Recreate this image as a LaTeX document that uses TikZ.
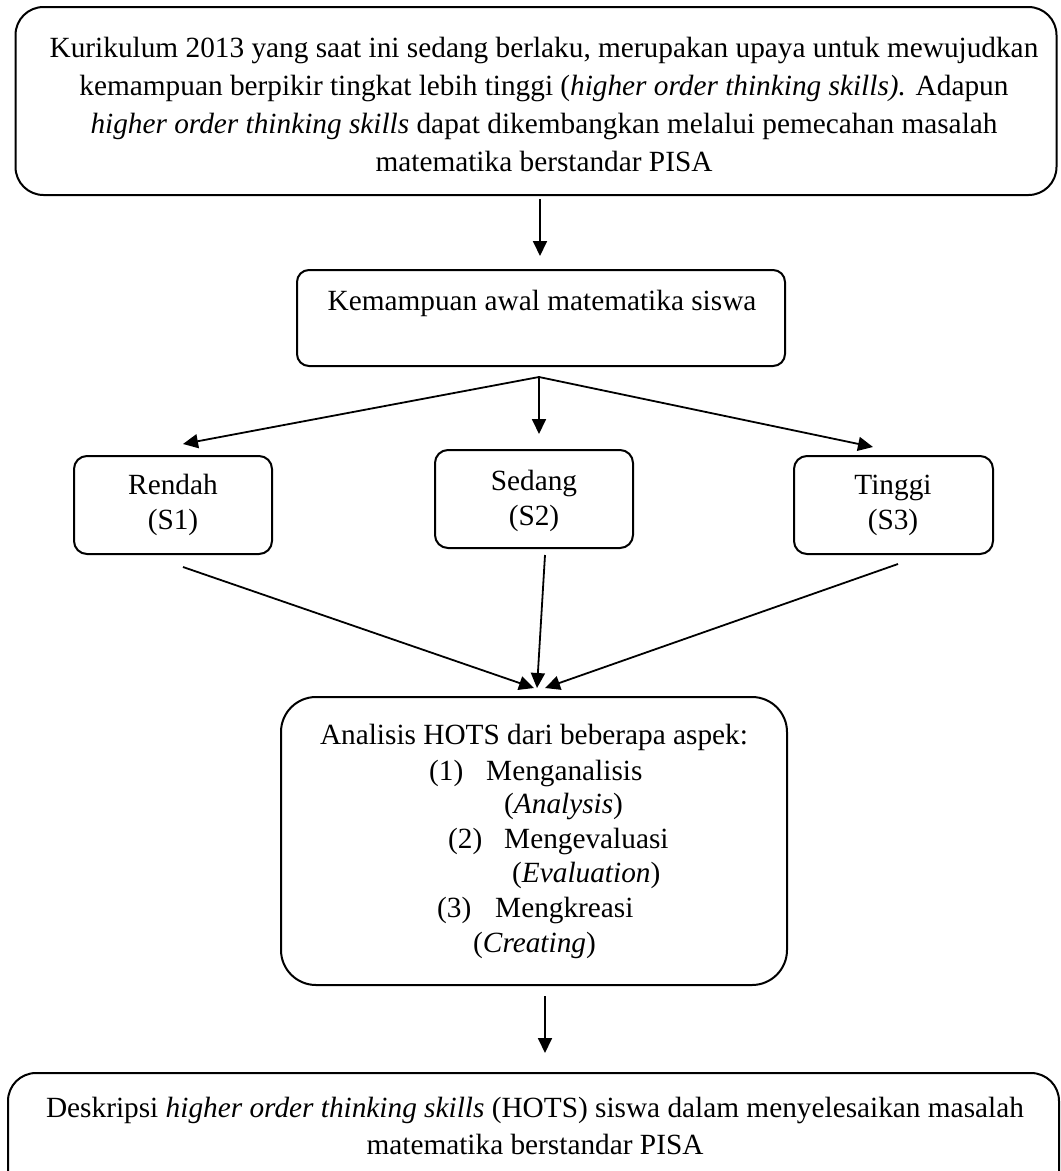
\documentclass[tikz,border=0pt]{standalone}
\usepackage{fontspec}
\setmainfont{Liberation Serif}
\usetikzlibrary{arrows.meta,calc}
\tikzset{
  box/.style={draw, line width=2pt, inner sep=0pt},
  txt/.style={font=\fontsize{29.3}{36}\selectfont, inner sep=0pt},
  lst/.style={txt, anchor=base west},
  arr/.style={line width=1.8pt, -{Triangle[length=15pt,width=14pt]}},
}
\begin{document}
\begin{tikzpicture}[x=1pt,y=-1pt]
\useasboundingbox (0,0) rectangle (1061,1171);
\clip (0,0) rectangle (1061,1171);
% boxes
\node[box, rounded corners=28pt, minimum width=1041pt, minimum height=188pt] (top) at (536,101) {};
\node[box, rounded corners=12pt, minimum width=488pt, minimum height=96pt] (kem) at (541,318) {};
\node[box, rounded corners=13pt, minimum width=198pt, minimum height=98pt] (ren) at (173,505) {};
\node[box, rounded corners=13pt, minimum width=198pt, minimum height=98pt] (sed) at (534,499) {};
\node[box, rounded corners=13pt, minimum width=199pt, minimum height=98pt] (tin) at (893.5,505) {};
\node[box, rounded corners=35pt, minimum width=506pt, minimum height=288pt] (ana) at (534,841) {};
\node[box, rounded corners=28pt, minimum width=1051pt, minimum height=140pt] (bot) at (533.5,1143) {};
% texts
\node[txt, align=center, font=\fontsize{29.3}{38}\selectfont] (toptext) at (544,104) {Kurikulum 2013 yang saat ini sedang berlaku, merupakan upaya untuk mewujudkan\\
kemampuan berpikir tingkat lebih tinggi (\textit{higher order thinking skills).} Adapun\\
\textit{higher order thinking skills} dapat dikembangkan melalui pemecahan masalah\\
matematika berstandar PISA};
\node[txt] (kemtext) at (542,303) {Kemampuan awal matematika siswa};
\node[txt, align=center, font=\fontsize{29.3}{35}\selectfont] (rentext) at (173,505) {Rendah\\(S1)};
\node[txt, align=center, font=\fontsize{29.3}{35}\selectfont] (sedtext) at (534,501) {Sedang\\(S2)};
\node[txt, align=center, font=\fontsize{29.3}{35}\selectfont] (tintext) at (893,505) {Tinggi\\(S3)};
\node[txt] (anatext) at (534,737) {Analisis HOTS dari beberapa aspek:};
\node[lst] (n1) at (429,780) {(1)};
\node[lst] (a1) at (486,780) {Menganalisis};
\node[lst] (e1) at (504,813) {(\textit{Analysis})};
\node[lst] (n2) at (448,848) {(2)};
\node[lst] (a2) at (504,848) {Mengevaluasi};
\node[lst] (e2) at (512,882) {(\textit{Evaluation})};
\node[lst] (n3) at (437,917) {(3)};
\node[lst] (a3) at (495,917) {Mengkreasi};
\node[lst] (e3) at (473,952) {(\textit{Creating})};
\node[txt, align=center, font=\fontsize{29.3}{37}\selectfont] (bottext) at (535,1126) {Deskripsi \textit{higher order thinking skills} (HOTS) siswa dalam menyelesaikan masalah\\
matematika berstandar PISA};
% connectors
\coordinate (fan) at (539,377);
\draw[arr] ($(top.south)+(4,3)$) -- ($(kem.north)+(-1,-13)$);
\draw[arr] (fan) -- ($(ren.north)+(10,-11)$);
\draw[arr] (fan) -- ($(sed.north)+(5,-15)$);
\draw[arr] (fan) -- ($(tin.north)+(-20.5,-8)$);
\draw[arr] ($(ren.south)+(10,12)$) -- ($(ana.north)+(0,-8)$);
\draw[arr] ($(sed.south)+(11,6)$) -- ($(ana.north)+(3,-8)$);
\draw[arr] ($(tin.south)+(4.5,9)$) -- ($(ana.north)+(11,-8)$);
\draw[arr] ($(ana.south)+(11,10)$) -- ($(bot.north)+(11.5,-19)$);
\end{tikzpicture}
\end{document}
